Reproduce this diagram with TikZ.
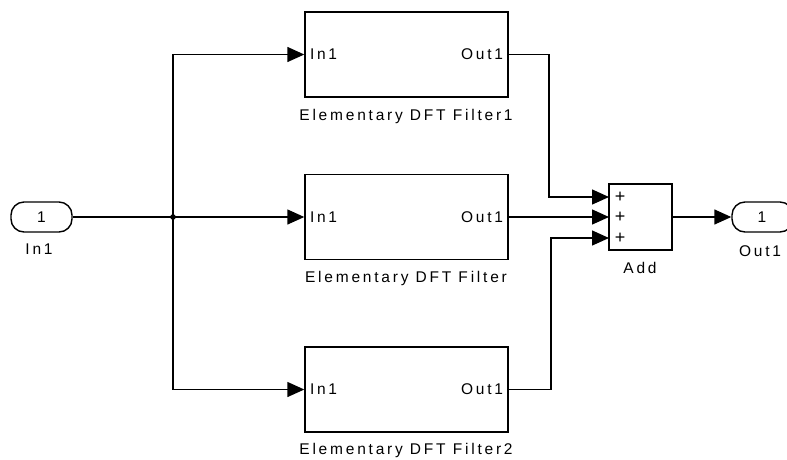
\documentclass[tikz,border=0pt]{standalone}
\usepackage{fontspec}
\newfontfamily\simfont{Liberation Sans}[LetterSpace=18]
\usetikzlibrary{arrows.meta}
\begin{document}
\begin{tikzpicture}[x=1pt,y=-1pt,
  line width=1.4pt,
  every node/.style={font=\simfont\fontsize{15.5}{18}\selectfont, inner sep=0pt},
  blk/.style={draw, rectangle, minimum width=203pt, minimum height=85pt},
  port/.style={draw, rectangle, rounded corners=13pt, minimum width=61pt, minimum height=30pt},
  addblk/.style={draw, rectangle, minimum width=63pt, minimum height=66pt},
  plus/.style={font=\simfont\fontsize{18}{20}\selectfont},
  sig/.style={-{Triangle[length=17pt,width=15pt]}}
]
\clip (0,0) rectangle (787,459);
\fill[white] (0,0) rectangle (787,459);

% ports
\node[port] (in1) at (41.5,217) {1};
\node (in1lab) at (39,249) {In1};
\node[port] (out1) at (762.5,217) {\hspace*{-1pt}1};
\node (out1lab) at (760,251) {Out1};

% filter blocks
\node[blk] (f1) at (406.5,54.5) {};
\node[blk] (f0) at (406.5,217) {};
\node[blk] (f2) at (406.5,389.5) {};
\foreach \b in {f1,f0,f2}{
  \node[anchor=west] (\b in) at ([xshift=5pt]\b.west) {In1};
  \node[anchor=east] (\b out) at ([xshift=-5pt]\b.east) {Out1};
}
\node (f1lab) at (406,116) {Elementary DFT Filter1};
\node (f0lab) at (406,278) {Elementary DFT Filter};
\node (f2lab) at (406,450) {Elementary DFT Filter2};

% add block
\node[addblk] (add) at (640.5,217) {};
\node (addlab) at (640,268) {Add};
\coordinate (a1) at (609,197);
\coordinate (a2) at (609,217);
\coordinate (a3) at (609,238);
\node[plus] (p1) at (620,197) {+};
\node[plus] (p2) at (620,217) {+};
\node[plus] (p3) at (620,238) {+};

% junction
\coordinate (j) at (173,217);
\fill (j) circle (2.8pt);

% connectors
\draw (in1.east) -- (j);
\draw[sig] (j) |- (f1.west);
\draw[sig] (j) -- (f0.west);
\draw[sig] (j) |- (f2.west);

\coordinate (c1) at (549,54.5);
\coordinate (c3) at (551,389.5);
\draw[sig] (f1.east) -- (c1) |- (a1);
\draw[sig] (f0.east) -- (a2);
\draw[sig] (f2.east) -- (c3) |- (a3);
\draw[sig] (add.east) -- (out1.west);
\end{tikzpicture}
\end{document}
